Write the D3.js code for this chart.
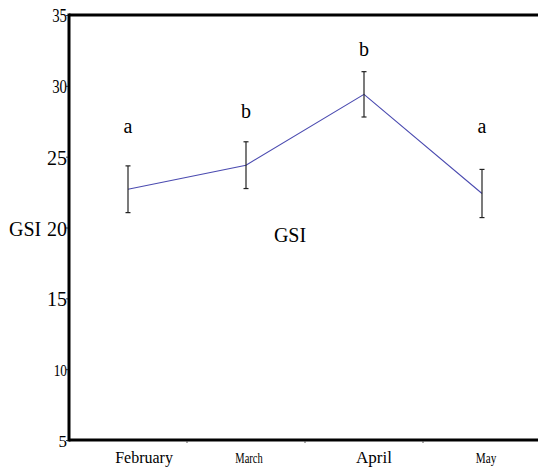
<!DOCTYPE html>
<html>
<head>
<meta charset="utf-8">
<script src="https://cdn.jsdelivr.net/npm/d3@7"></script>
<style>
  html, body { margin: 0; padding: 0; background: #fff; }
  svg { display: block; }
</style>
</head>
<body>
<svg id="chart"></svg>
<script>
// chart data
const months = ['February', 'March', 'April', 'May'];
const gsiMean = [22.7, 24.4, 29.4, 22.4];
const gsiErr = [1.65, 1.65, 1.6, 1.7];
const groupLetters = ['a', 'b', 'b', 'a'];
const letterLevel = [27.2, 28.2, 32.6, 27.2]; // where the letters sit, in GSI units
const yTicks = [5, 10, 15, 20, 25, 30, 35];

const width = 538, height = 469;
const FONT = 'Liberation Serif, serif';
const svg = d3.select('#chart').attr('width', width).attr('height', height)
    .attr('font-family', FONT);

// plot frame
const plotL = 69, plotR = 541, plotT = 15, plotB = 440;

const x = d3.scaleBand().domain(months).range([plotL, plotR]).padding(0);
const y = d3.scaleLinear().domain([5, 35]).range([plotB, plotT]);
const cx = m => x(m) + x.bandwidth() / 2;

// the y tick labels in the original come out in mixed sizes
const yTickStyle = {
    35: { size: 19, sx: 0.78 }, 30: { size: 19, sx: 0.78 }, 25: { size: 20, sx: 1 },
    20: { size: 20, sx: 1 }, 15: { size: 20, sx: 1 }, 10: { size: 17, sx: 0.78 }, 5: { size: 17, sx: 1 }
};
// month labels also vary in size and sit a bit off the points
const monthStyle = {
    February: { size: 16, sx: 1, nudge: 16 },
    March: { size: 14, sx: 0.75, nudge: 3 },
    April: { size: 17, sx: 1, nudge: 10 },
    May: { size: 14, sx: 0.8, nudge: 4 }
};

// top border line
svg.append('line')
    .attr('x1', plotL).attr('x2', width)
    .attr('y1', plotT).attr('y2', plotT)
    .attr('stroke', '#000').attr('stroke-width', 3);

// y axis
const yAxis = svg.append('g').attr('transform', `translate(${plotL},0)`)
    .call(d3.axisLeft(y).tickValues(yTicks).tickSize(3).tickFormat(''));
yAxis.select('.domain').remove();
yAxis.selectAll('.tick line').attr('stroke', '#444');
svg.append('line')
    .attr('x1', plotL).attr('x2', plotL)
    .attr('y1', plotT - 1.5).attr('y2', plotB + 1.5)
    .attr('stroke', '#000').attr('stroke-width', 3);

svg.append('g').selectAll('text')
    .data(yTicks)
    .join('text')
    .attr('font-family', FONT)
    .attr('text-anchor', 'end')
    .attr('dominant-baseline', 'central')
    .attr('font-size', d => yTickStyle[d].size)
    .attr('transform', d => `translate(${plotL - 2},${y(d) + 1}) scale(${yTickStyle[d].sx},1)`)
    .text(d => d);

// y axis title next to the 20 tick
svg.append('text')
    .attr('font-family', FONT)
    .attr('x', 9).attr('y', y(20) + 8)
    .attr('font-size', 20)
    .text('GSI');

// x axis
const xAxis = svg.append('g').attr('transform', `translate(0,${plotB})`)
    .call(d3.axisBottom(x).tickSize(0).tickFormat(''));
xAxis.select('.domain').remove();
svg.append('line')
    .attr('x1', plotL).attr('x2', width)
    .attr('y1', plotB).attr('y2', plotB)
    .attr('stroke', '#000').attr('stroke-width', 3);

// small separators between months
svg.append('g').selectAll('line')
    .data(months.slice(1))
    .join('line')
    .attr('x1', d => x(d)).attr('x2', d => x(d))
    .attr('y1', plotB + 1).attr('y2', plotB + 3)
    .attr('stroke', '#555');

svg.append('g').selectAll('text')
    .data(months)
    .join('text')
    .attr('font-family', FONT)
    .attr('text-anchor', 'middle')
    .attr('font-size', d => monthStyle[d].size)
    .attr('transform', d => `translate(${cx(d) + monthStyle[d].nudge},463) scale(${monthStyle[d].sx},1)`)
    .text(d => d);

const pts = months.map((m, i) => ({ m, v: gsiMean[i], e: gsiErr[i], g: groupLetters[i], l: letterLevel[i] }));

// mean line
svg.append('path')
    .datum(pts)
    .attr('fill', 'none')
    .attr('stroke', '#4b4bb0')
    .attr('stroke-width', 1.1)
    .attr('d', d3.line().x(d => cx(d.m)).y(d => y(d.v)));

// error bars
const bars = svg.append('g').attr('stroke', '#222').attr('stroke-width', 1.2);
pts.forEach(d => {
    const xc = cx(d.m);
    bars.append('line').attr('x1', xc).attr('x2', xc)
        .attr('y1', y(d.v + d.e)).attr('y2', y(d.v - d.e));
    [d.v + d.e, d.v - d.e].forEach(v => {
        bars.append('line').attr('x1', xc - 2.5).attr('x2', xc + 2.5)
            .attr('y1', y(v)).attr('y2', y(v));
    });
});

// significance letters above the bars
svg.append('g').selectAll('text')
    .data(pts)
    .join('text')
    .attr('font-family', FONT)
    .attr('text-anchor', 'middle')
    .attr('dominant-baseline', 'central')
    .attr('font-size', 20)
    .attr('x', d => cx(d.m))
    .attr('y', d => y(d.l))
    .text(d => d.g);

// stray series label in the middle of the plot
svg.append('text')
    .attr('font-family', FONT)
    .attr('x', 290).attr('y', y(20) + 14)
    .attr('text-anchor', 'middle')
    .attr('font-size', 20)
    .text('GSI');
</script>
</body>
</html>
